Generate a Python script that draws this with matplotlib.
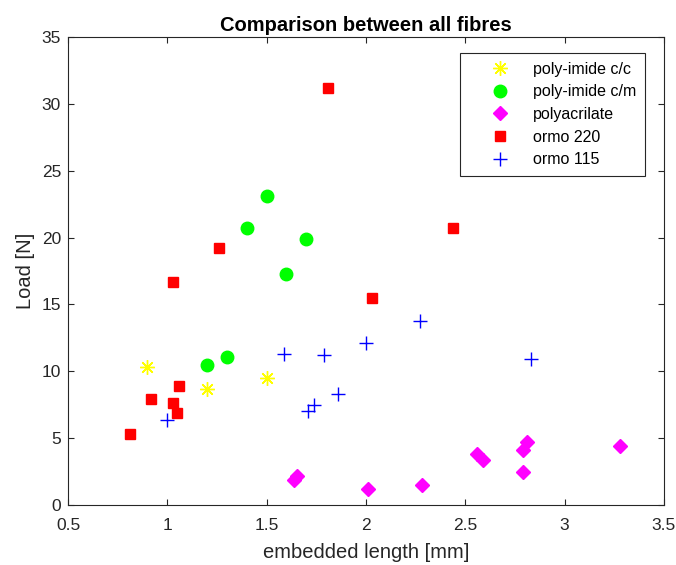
import matplotlib.pyplot as plt

plt.rcParams['font.family'] = ['Liberation Sans', 'DejaVu Sans']

# poly-imide c/c
pic_x = [0.90, 1.20, 1.50]
pic_y = [10.3, 8.7, 9.5]

# poly-imide c/m
pim_x = [1.20, 1.30, 1.40, 1.50, 1.60, 1.70]
pim_y = [10.5, 11.05, 20.7, 23.1, 17.3, 19.9]

# polyacrilate
pac_x = [1.64, 1.655, 2.01, 2.28, 2.56, 2.59, 2.79, 2.79, 2.81, 3.28]
pac_y = [1.9, 2.2, 1.2, 1.5, 3.8, 3.35, 2.45, 4.15, 4.7, 4.4]

# ormo 220
o220_x = [0.81, 0.92, 1.03, 1.05, 1.06, 1.03, 1.26, 1.81, 2.03, 2.44]
o220_y = [5.3, 7.9, 7.6, 6.9, 8.9, 16.7, 19.2, 31.2, 15.5, 20.7]

# ormo 115
o115_x = [1.00, 1.59, 1.71, 1.74, 1.79, 1.86, 2.00, 2.27, 2.83]
o115_y = [6.4, 11.3, 7.05, 7.5, 11.2, 8.3, 12.15, 13.8, 10.95]

fig = plt.figure(figsize=(6.76, 5.65), dpi=100)
ax = fig.add_axes([0.1006, 0.106, 0.8814, 0.8285])

ax.plot(pic_x, pic_y, linestyle='none', marker=(8, 2, 0), color=(1, 1, 0),
        markersize=10.5, markeredgewidth=1, label='poly-imide c/c')
ax.plot(pim_x, pim_y, 'o', color=(0, 1, 0), markersize=9, label='poly-imide c/m')
ax.plot(pac_x, pac_y, 'D', color=(1, 0, 1), markersize=7.5, label='polyacrilate')
ax.plot(o220_x, o220_y, 's', color=(1, 0, 0), markersize=7, label='ormo 220')
ax.plot(o115_x, o115_y, '+', color=(0, 0, 1), markersize=10, markeredgewidth=1, label='ormo 115')

ax.set_xlim(0.5, 3.5)
ax.set_ylim(0, 35)
ax.set_xticks([0.5, 1, 1.5, 2, 2.5, 3, 3.5])
ax.set_xticklabels(['0.5', '1', '1.5', '2', '2.5', '3', '3.5'])
ax.set_yticks(range(0, 36, 5))

edge = (0.15, 0.15, 0.15)
for s in ax.spines.values():
    s.set_color(edge)
    s.set_linewidth(0.8)
ax.tick_params(direction='in', length=4, width=0.8, colors=edge, labelsize=12.5,
               top=True, right=True, labelcolor=(0.15, 0.15, 0.15))
ax.tick_params(axis='x', pad=9.5)
ax.tick_params(axis='y', pad=5)

ax.set_xlabel('embedded length [mm]', fontsize=14.5, color=edge, labelpad=7)
ax.set_ylabel('Load [N]', fontsize=14.5, color=edge, labelpad=5)
ax.set_title('Comparison between all fibres', fontsize=14.5, fontweight='bold', pad=4)

leg = ax.legend(loc='upper right', bbox_to_anchor=(0.968, 0.966), borderaxespad=0,
                fontsize=11.5, fancybox=False, framealpha=1, edgecolor=edge,
                handletextpad=0.1, borderpad=0.55, labelspacing=0.48, handlelength=3.9)
leg.get_frame().set_linewidth(0.8)

fig.savefig('out.png', dpi=100)
